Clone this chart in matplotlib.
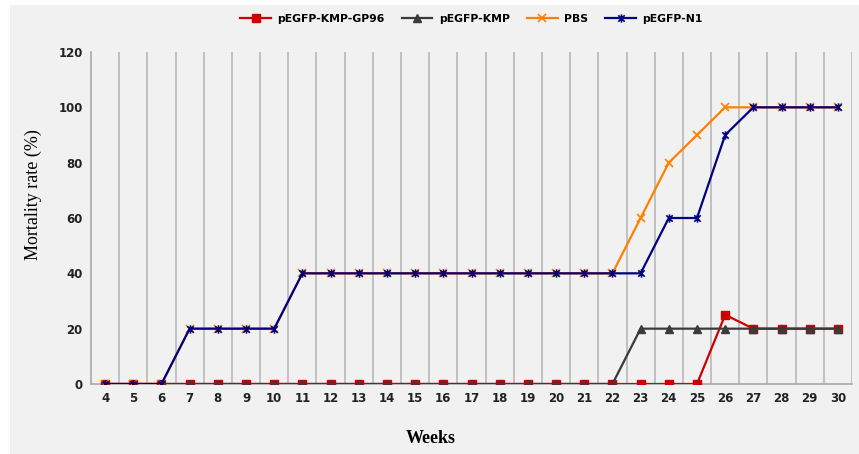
import matplotlib
matplotlib.use("Agg")
import matplotlib.pyplot as plt
from matplotlib.path import Path
from matplotlib.patches import Rectangle

weeks = list(range(4, 31))

gp96 = [0] * 22 + [25, 20, 20, 20, 20]
kmp = [0] * 19 + [20] * 8
pbs = [0, 0, 0, 20, 20, 20, 20] + [40] * 12 + [60, 80, 90, 100, 100, 100, 100, 100]
n1 = [0, 0, 0, 20, 20, 20, 20] + [40] * 13 + [60, 60, 90, 100, 100, 100, 100]

series_names = ["pEGFP-KMP-GP96", "pEGFP-KMP", "PBS", "pEGFP-N1"]

# excel style star: an x with a vertical bar through it
star = Path(
    [(-1, -1), (1, 1), (-1, 1), (1, -1), (0, -1.3), (0, 1.3)],
    [Path.MOVETO, Path.LINETO, Path.MOVETO, Path.LINETO, Path.MOVETO, Path.LINETO]
)

fig = plt.figure(figsize=(8.59, 4.54), dpi=100)
fig.patch.set_facecolor("white")
fig.patches.append(Rectangle((10 / 859, 0), 1, 1 - 5 / 454, transform=fig.transFigure,
                             facecolor="#f1f1f1", edgecolor="none", zorder=-10))

ax = fig.add_axes([91 / 859, 1 - 384 / 454, 761 / 859, 332 / 454])
ax.set_facecolor("#f1f1f1")

x = list(range(len(weeks)))

ax.plot(x, gp96, color="#cc0000", lw=1.6, marker="s", ms=5.5,
        mec="#cc0000", mfc="#cc0000", label=series_names[0], zorder=3)
ax.plot(x, kmp, color="#3a3a3a", lw=1.6, marker="^", ms=5.5,
        mec="#3a3a3a", mfc="#3a3a3a", label=series_names[1], zorder=4)
ax.plot(x, pbs, color="#ff8000", lw=1.6, marker="x", ms=6, mew=1.2,
        label=series_names[2], zorder=5)
ax.plot(x, n1, color="#000080", lw=1.6, marker=star, ms=6, mew=1.2,
        mec="#000080", label=series_names[3], zorder=6)

ax.set_xlim(-0.5, len(weeks) - 0.5)
ax.set_ylim(0, 120)
ax.set_xticks(x)
ax.set_xticklabels([str(w) for w in weeks])
ax.set_yticks(range(0, 121, 20))

for i in range(len(weeks)):
    ax.axvline(i + 0.5, color="#b8b8b8", lw=1.2, zorder=1)

for side in ["top", "right"]:
    ax.spines[side].set_visible(False)
ax.spines["left"].set_color("#a8a8a8")
ax.spines["bottom"].set_color("#a8a8a8")
ax.spines["left"].set_linewidth(1.2)
ax.spines["bottom"].set_linewidth(1.2)
ax.tick_params(length=0, pad=6)
for lab in ax.get_xticklabels() + ax.get_yticklabels():
    lab.set_fontfamily("DejaVu Sans")
    lab.set_fontsize(8.5)
    lab.set_fontweight("bold")
    lab.set_color("#222222")

ax.set_xlabel("Weeks", fontfamily="Liberation Serif", fontsize=13,
              fontweight="bold", labelpad=18)
ax.xaxis.set_label_coords(0.447, -0.14)
ax.set_ylabel("Mortality rate (%)", fontfamily="Liberation Serif", fontsize=13,
              labelpad=12)
ax.yaxis.set_label_coords(-0.064, 0.572)

leg = ax.legend(loc="upper center", bbox_to_anchor=(0.5, 1.145), ncol=4,
                frameon=False, handlelength=2.8, handletextpad=0.6,
                columnspacing=1.6,
                prop={"family": "DejaVu Sans", "size": 7.8, "weight": "bold"})

fig.savefig("out.png", dpi=100)
